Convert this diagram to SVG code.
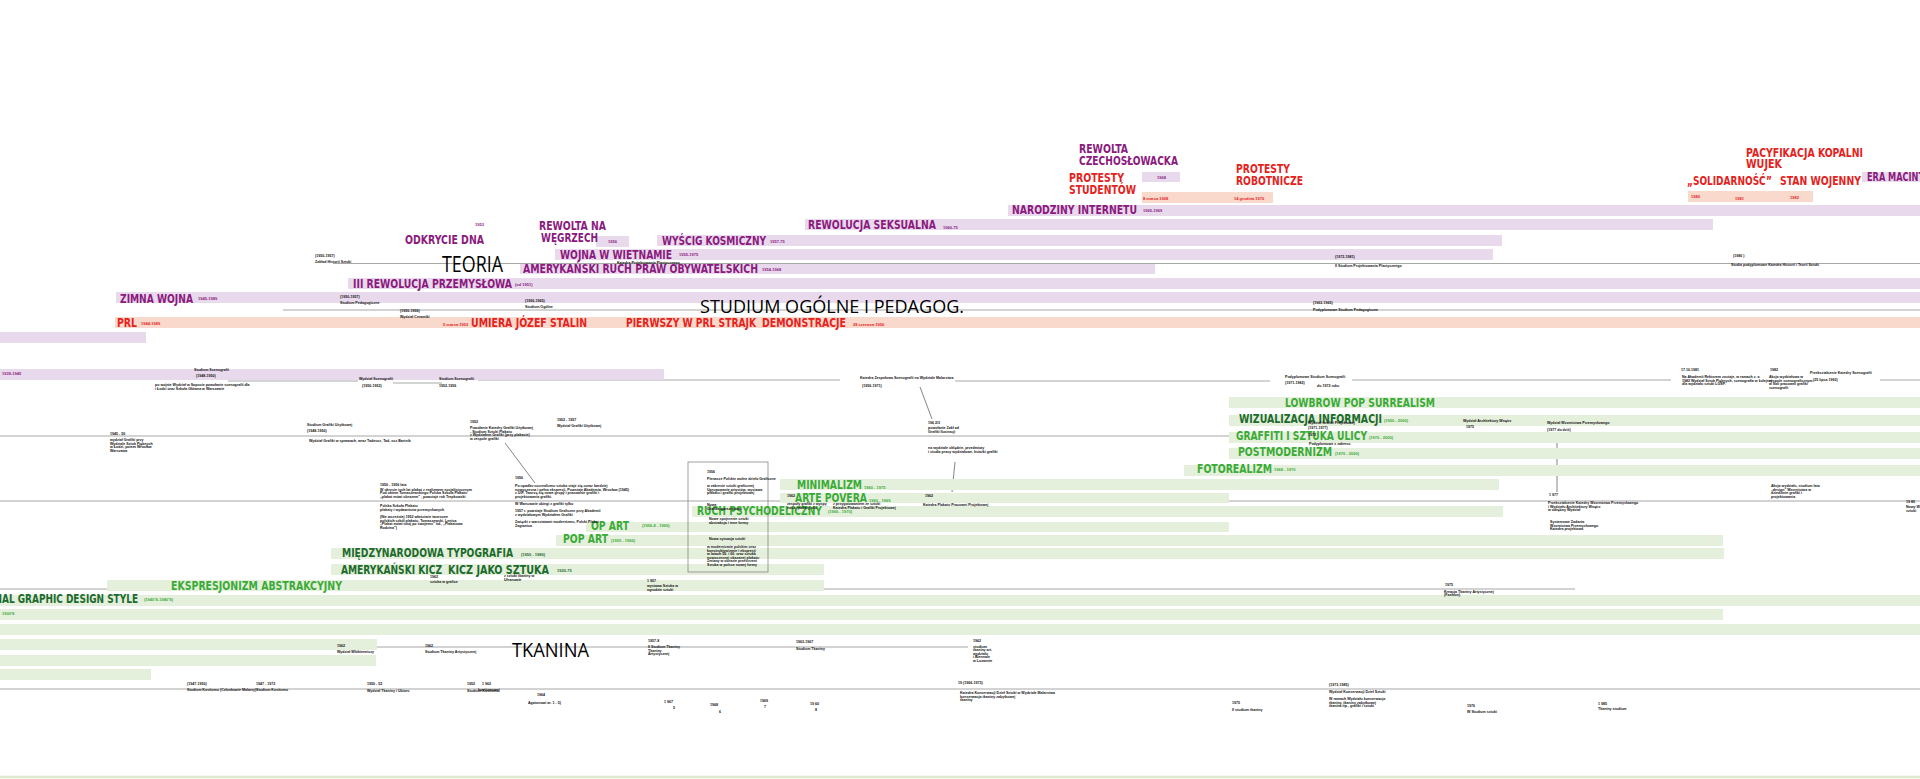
<svg xmlns="http://www.w3.org/2000/svg" width="1920" height="779" viewBox="0 0 1920 779">
<style>
.bg{fill:#fff}
.pb{fill:#e8d9ec}
.rb{fill:#f9d9cc}
.gb{fill:#e4efdc}
.ln{stroke:#a8a8a8;stroke-width:1.2;fill:none}
.cn{stroke:#666;stroke-width:0.8;fill:none}
.tt{font-family:"DejaVu Sans","Liberation Sans",sans-serif;font-weight:bold;font-size:12.5px;font-stretch:condensed}
.pt{fill:#8b1a7e}
.rt{fill:#e5221c}
.gt{fill:#3aab36}
.dg{fill:#1c6b2d}
.big{font-family:"Open Sans","Liberation Sans",sans-serif;font-weight:normal;fill:#000}
.d{font-family:"Liberation Sans",sans-serif;font-size:4px;font-weight:bold}
.t{font-family:"Liberation Sans",sans-serif;font-size:3.6px;font-weight:bold;fill:#111}
</style>
<rect class="bg" x="0" y="0" width="1920" height="779"/>

<g id="connectors">
<line class="ln" x1="333" y1="263.5" x2="1920" y2="263.5"/>
<line class="ln" x1="283" y1="310" x2="1920" y2="310"/>
<line class="ln" x1="0" y1="377" x2="173" y2="377"/>
<line class="ln" x1="228" y1="381" x2="358" y2="381"/>
<line class="ln" x1="393" y1="383" x2="442" y2="383"/>
<line class="ln" x1="478" y1="380" x2="840" y2="380"/>
<line class="ln" x1="955" y1="381" x2="1270" y2="381"/>
<line class="ln" x1="1352" y1="380" x2="1671" y2="380"/>
<line class="ln" x1="1880" y1="380" x2="1920" y2="380"/>
<line class="ln" x1="0" y1="436" x2="1920" y2="436"/>
<line class="ln" x1="0" y1="501" x2="1920" y2="501"/>
<line class="ln" x1="0" y1="589" x2="1575" y2="589"/>
<line class="ln" x1="367" y1="647" x2="968" y2="647"/>
<line class="ln" x1="0" y1="689" x2="1920" y2="689"/>
<line x1="0" y1="777" x2="1920" y2="777" stroke="#dfe9cf" stroke-width="2.5"/>
<line class="cn" x1="505" y1="443" x2="535" y2="483"/>
<line class="cn" x1="920" y1="387" x2="932" y2="419"/>
<line class="cn" x1="955" y1="462" x2="952" y2="492"/>
<line class="cn" x1="1557" y1="438" x2="1557" y2="492"/>
</g>

<g id="bars">
<rect class="pb" x="1862" y="172" width="58" height="10"/>
<rect class="pb" x="1142" y="172" width="38" height="10"/>
<rect class="rb" x="1142" y="192" width="131" height="11"/>
<rect class="rb" x="1688" y="191" width="125" height="11"/>
<rect class="pb" x="1008" y="205" width="912" height="11"/>
<rect class="pb" x="805" y="219" width="908" height="11"/>
<rect class="pb" x="596" y="236" width="33" height="11"/>
<rect class="pb" x="657" y="235" width="845" height="11"/>
<rect class="pb" x="555" y="249" width="938" height="11"/>
<rect class="pb" x="520" y="264" width="635" height="10"/>
<rect class="pb" x="348" y="278" width="1572" height="11"/>
<rect class="pb" x="116" y="292" width="1804" height="11"/>
<rect class="rb" x="115" y="317" width="1805" height="11"/>
<rect class="pb" x="0" y="332" width="146" height="11"/>
<rect class="pb" x="0" y="369" width="664" height="11"/>
<rect class="gb" x="1229" y="397" width="691" height="11"/>
<rect class="gb" x="1229" y="415" width="691" height="11"/>
<rect class="gb" x="1229" y="432" width="691" height="11"/>
<rect class="gb" x="1229" y="448" width="691" height="11"/>
<rect class="gb" x="1184" y="465" width="736" height="11"/>
<rect class="gb" x="780" y="479" width="719" height="11"/>
<rect class="gb" x="780" y="493" width="449" height="10"/>
<rect class="gb" x="692" y="506" width="811" height="11"/>
<rect class="gb" x="586" y="522" width="643" height="10"/>
<rect class="gb" x="556" y="535" width="1167" height="11"/>
<rect class="gb" x="331" y="548" width="1393" height="11"/>
<rect class="gb" x="331" y="564" width="493" height="11"/>
<rect class="gb" x="107" y="580" width="717" height="11"/>
<rect class="gb" x="0" y="595" width="1920" height="11"/>
<rect class="gb" x="0" y="609" width="1723" height="11"/>
<rect class="gb" x="0" y="624" width="1920" height="11"/>
<rect class="gb" x="0" y="639" width="377" height="11"/>
<rect class="gb" x="0" y="655" width="376" height="11"/>
<rect class="gb" x="0" y="669" width="151" height="11"/>
</g>

<g id="box1956"><rect x="688" y="462" width="80" height="110" fill="none" stroke="#888" stroke-width="0.8"/></g>

<g id="events-top">
<g id="n-rewolta-cz"><text class="tt pt" x="1079" y="153" textLength="49" lengthAdjust="spacingAndGlyphs">REWOLTA</text><text class="tt pt" x="1079" y="165" textLength="99" lengthAdjust="spacingAndGlyphs">CZECHOSŁOWACKA</text><text class="d pt" x="1157" y="179">1968</text></g>
<g id="n-protesty-st"><text class="tt rt" x="1069" y="182" textLength="55" lengthAdjust="spacingAndGlyphs">PROTESTY</text><text class="tt rt" x="1069" y="193.5" textLength="67" lengthAdjust="spacingAndGlyphs">STUDENTÓW</text><text class="d rt" x="1143" y="200">8 marca 1968</text></g>
<g id="n-protesty-rob"><text class="tt rt" x="1236" y="173" textLength="54" lengthAdjust="spacingAndGlyphs">PROTESTY</text><text class="tt rt" x="1236" y="184.5" textLength="67" lengthAdjust="spacingAndGlyphs">ROBOTNICZE</text><text class="d rt" x="1234" y="200">14 grudnia 1970</text></g>
<g id="n-wujek"><text class="tt rt" x="1746" y="156.5" textLength="117" lengthAdjust="spacingAndGlyphs">PACYFIKACJA KOPALNI</text><text class="tt rt" x="1746" y="167.5" textLength="36" lengthAdjust="spacingAndGlyphs">WUJEK</text></g>
<g id="n-solidarnosc"><text class="tt rt" x="1687" y="185" textLength="85" lengthAdjust="spacingAndGlyphs">„SOLIDARNOŚĆ”</text><text class="d rt" x="1691" y="198">1980</text><text class="d rt" x="1735" y="199.5">1981</text></g>
<g id="n-stan-wojenny"><text class="tt rt" x="1780" y="185" textLength="81" lengthAdjust="spacingAndGlyphs">STAN WOJENNY</text><text class="d rt" x="1790" y="198.5">1982</text></g>
<g id="n-era-mac"><text class="tt pt" x="1867" y="180.5" textLength="83" lengthAdjust="spacingAndGlyphs">ERA MACINTOSHA</text></g>
<g id="n-internet"><text class="tt pt" x="1012" y="213.5" textLength="125" lengthAdjust="spacingAndGlyphs">NARODZINY INTERNETU</text><text class="d pt" x="1143" y="212">1965-1969</text></g>
<g id="n-seks"><text class="tt pt" x="808" y="229" textLength="128" lengthAdjust="spacingAndGlyphs">REWOLUCJA SEKSUALNA</text><text class="d pt" x="943" y="229">1960-75</text></g>
<g id="n-dna"><text class="d pt" x="475" y="226">1953</text><text class="tt pt" x="405" y="244" textLength="79" lengthAdjust="spacingAndGlyphs">ODKRYCIE DNA</text></g>
<g id="n-wegry"><text class="tt pt" x="539" y="230" textLength="67" lengthAdjust="spacingAndGlyphs">REWOLTA NA</text><text class="tt pt" x="541" y="241.5" textLength="57" lengthAdjust="spacingAndGlyphs">WĘGRZECH</text><text class="d pt" x="608" y="243">1956</text></g>
<g id="n-kosmos"><text class="tt pt" x="662" y="245" textLength="104" lengthAdjust="spacingAndGlyphs">WYŚCIG KOSMICZNY</text><text class="d pt" x="770" y="243">1957-75</text></g>
<g id="n-wietnam"><text class="tt pt" x="560" y="259" textLength="112" lengthAdjust="spacingAndGlyphs">WOJNA W WIETNAMIE</text><text class="d pt" x="679" y="256">1955-1975</text></g>
<g id="n-prawa"><text class="tt pt" x="523" y="273" textLength="235" lengthAdjust="spacingAndGlyphs">AMERYKAŃSKI RUCH PRAW OBYWATELSKICH</text><text class="d pt" x="762" y="271">1954-1968</text></g>
<g id="n-teoria"><text class="big" x="442" y="271.5" font-size="21" textLength="61" lengthAdjust="spacingAndGlyphs">TEORIA</text></g>
<g id="n-rewprzem"><text class="tt pt" x="353" y="288" textLength="159" lengthAdjust="spacingAndGlyphs">III REWOLUCJA PRZEMYSŁOWA</text><text class="d pt" x="515" y="286">(od 1951)</text></g>
<g id="n-zimna"><text class="tt pt" x="120" y="302.5" textLength="73" lengthAdjust="spacingAndGlyphs">ZIMNA WOJNA</text><text class="d pt" x="198" y="300">1945-1989</text></g>
<g id="n-studium"><text class="big" x="700" y="313" font-size="19" textLength="264" lengthAdjust="spacingAndGlyphs">STUDIUM OGÓLNE I PEDAGOG.</text></g>
<g id="n-prl"><text class="tt rt" x="117" y="327" textLength="20" lengthAdjust="spacingAndGlyphs">PRL</text><text class="d rt" x="141" y="325">1944-1989</text></g>
<g id="n-stalin"><text class="d rt" x="443" y="325.5">5 marca 1953</text><text class="tt rt" x="471" y="327" textLength="116" lengthAdjust="spacingAndGlyphs">UMIERA JÓZEF STALIN</text></g>
<g id="n-strajk"><text class="tt rt" x="626" y="327" textLength="130" lengthAdjust="spacingAndGlyphs">PIERWSZY W PRL STRAJK</text><text class="tt rt" x="762" y="327" textLength="84" lengthAdjust="spacingAndGlyphs">DEMONSTRACJE</text><text class="d rt" x="853" y="326">28 czerwca 1956</text></g>
</g>

<g id="art-movements">
<g id="n-lowbrow"><text class="tt gt" x="1285" y="406.5" textLength="150" lengthAdjust="spacingAndGlyphs">LOWBROW POP SURREALISM</text></g>
<g id="n-wizual"><text class="tt dg" x="1239" y="423" textLength="143" lengthAdjust="spacingAndGlyphs">WIZUALIZACJA INFORMACJI</text><text class="d gt" x="1384" y="422">(1950 - 2000)</text></g>
<g id="n-graffiti"><text class="tt gt" x="1236" y="439.5" textLength="131" lengthAdjust="spacingAndGlyphs">GRAFFITI I SZTUKA ULICY</text><text class="d gt" x="1369" y="439">(1970 - 2000)</text></g>
<g id="n-postmod"><text class="tt gt" x="1238" y="456" textLength="94" lengthAdjust="spacingAndGlyphs">POSTMODERNIZM</text><text class="d gt" x="1335" y="455">(1970 - 2000)</text></g>
<g id="n-fotoreal"><text class="tt gt" x="1197" y="472.5" textLength="75" lengthAdjust="spacingAndGlyphs">FOTOREALIZM</text><text class="d gt" x="1274" y="471">1968 - 1970</text></g>
<g id="n-minimal"><text class="tt gt" x="797" y="489" textLength="65" lengthAdjust="spacingAndGlyphs">MINIMALIZM</text><text class="d gt" x="864" y="489">1960 - 1975</text></g>
<g id="n-arte"><text class="tt gt" x="795" y="502" textLength="72" lengthAdjust="spacingAndGlyphs">ARTE POVERA</text><text class="d gt" x="869" y="502">1960 - 1969</text></g>
<g id="n-psych"><text class="tt gt" x="697" y="515" textLength="125" lengthAdjust="spacingAndGlyphs">RUCH PSYCHODELICZNY</text><text class="d gt" x="828" y="513">(1966 - 1970)</text></g>
<g id="n-opart"><text class="tt gt" x="591" y="530" textLength="38" lengthAdjust="spacingAndGlyphs">OP ART</text><text class="d gt" x="642" y="527">(1956-8 - 1969)</text></g>
<g id="n-popart"><text class="tt gt" x="563" y="543" textLength="45" lengthAdjust="spacingAndGlyphs">POP ART</text><text class="d gt" x="611" y="542">(1955 - 1960)</text></g>
<g id="n-typo"><text class="tt dg" x="342" y="557" textLength="171" lengthAdjust="spacingAndGlyphs">MIĘDZYNARODOWA TYPOGRAFIA</text><text class="d dg" x="521" y="556">(1950 - 1980)</text></g>
<g id="n-kicz"><text class="tt dg" x="341" y="574" textLength="101" lengthAdjust="spacingAndGlyphs">AMERYKAŃSKI KICZ</text><text class="tt dg" x="448" y="574" textLength="101" lengthAdjust="spacingAndGlyphs">KICZ JAKO SZTUKA</text><text class="d dg" x="557" y="572">1920-75</text></g>
<g id="n-ekspr"><text class="tt gt" x="171" y="590" textLength="171" lengthAdjust="spacingAndGlyphs">EKSPRESJONIZM ABSTRAKCYJNY</text></g>
<g id="n-igds"><text class="tt dg" x="-66" y="602.5" textLength="204" lengthAdjust="spacingAndGlyphs">INTERNATIONAL GRAPHIC DESIGN STYLE</text><text class="d gt" x="144" y="601">(1940'S-1980'S)</text></g>
<g id="n-1930"><text class="d gt" x="2" y="615">1930'S</text></g>
<g id="n-tkanina"><text class="big" x="512" y="657" font-size="20.5" textLength="77" lengthAdjust="spacingAndGlyphs">TKANINA</text></g>
</g>

<g id="notes">
<g id="a1"><text class="t" x="315" y="257">(1950-1957)</text><text class="t" x="315" y="263">Zakład Historii Sztuki</text></g>
<g id="a2"><text class="t" x="340" y="298">(1950-1957)</text><text class="t" x="340" y="304">Studium Pedagogiczne</text></g>
<g id="a3"><text class="t" x="400" y="312">(1950-1956)</text><text class="t" x="400" y="318">Wydział Ceramiki</text></g>
<g id="a4"><text class="t" x="525" y="302">(1956-1965)</text><text class="t" x="525" y="308">Studium Ogólne</text></g>
<g id="a5"><text class="t" x="617" y="264">Katedra Projektowania Plastycznego</text></g>
<g id="a6"><text class="t" x="1335" y="258">(1972-1981)</text><text class="t" x="1335" y="267">II Studium Projektowania Plastycznego</text></g>
<g id="a7"><text class="t" x="1313" y="304">(1962-1965)</text><text class="t" x="1313" y="311">Podyplomowe Studium Pedagogiczne</text></g>
<g id="a8"><text class="t" x="1733" y="257">(1980 )</text><text class="t" x="1731" y="266">Studia podyplomowe Katedra Historii i Teorii Sztuki</text></g>
<g id="a9"><text class="d pt" x="2" y="375">1939-1945</text></g>
<g id="a10"><text class="t" x="194" y="371">Studium Scenografii</text><text class="t" x="196" y="377">(1948-1950)</text></g>
<g id="a11"><text class="t" x="155" y="386">po wojnie Wydział w Sopocie powołanie scenografii dla</text><text class="t" x="155" y="390">i Łodzi oraz Szkoła Główna w Warszawie</text></g>
<g id="a12"><text class="t" x="359" y="380">Wydział Scenografii</text><text class="t" x="362" y="387">(1950-1952)</text></g>
<g id="a13"><text class="t" x="439" y="380">Studium Scenografii</text><text class="t" x="439" y="387">1952-1956</text></g>
<g id="a14"><text class="t" x="860" y="379">Katedra Zespołowa Scenografii na Wydziale Malarstwa</text><text class="t" x="862" y="387">(1956-1971)</text></g>
<g id="a15"><text class="t" x="1285" y="378">Podyplomowe Studium Scenografii</text><text class="t" x="1285" y="384">(1971-1982)</text><text class="t" x="1317" y="387">do 1972 roku</text></g>
<g id="a16"><text class="t" x="1681" y="371">17.10.1981</text><text class="t" x="1682" y="378">Na Akademii Rektorem zostaje, w ramach z. a</text><text class="t" x="1682" y="381.5">1982 Wydział Sztuk Pięknych, scenografia w kolejnej</text><text class="t" x="1682" y="385">dla wydziału sztuki LGSP.</text></g>
<g id="a17"><text class="t" x="1770" y="371">1982</text><text class="t" x="1769" y="378">Akcja wydziałowa w</text><text class="t" x="1769" y="381.5">zespole scenograficznym</text><text class="t" x="1769" y="385">w Sali pracowni grafiki</text><text class="t" x="1769" y="388.5">scenografii</text></g>
<g id="a18"><text class="t" x="1810" y="374">Przekształcenie Katedry Scenografii</text><text class="t" x="1813" y="381">(25 lipca 1992)</text></g>
<g id="a19"><text class="t" x="307" y="426">Studium Grafiki Użytkowej</text><text class="t" x="307" y="432">(1948-1950)</text><text class="t" x="309" y="441.5">Wydział Grafiki w sprawach, wraz Tadeusz, Tad, ocz Bartnik</text></g>
<g id="a20"><text class="t" x="110" y="435">1945 - 50</text><text class="t" x="110" y="441">wydział Grafiki przy</text><text class="t" x="110" y="444.5">Wydziale Sztuk Pięknych</text><text class="t" x="110" y="448">w Łodzi, potem Wrocław</text><text class="t" x="110" y="451.5">Warszawa</text></g>
<g id="a21"><text class="t" x="470" y="423">1952</text><text class="t" x="470" y="429">Powołanie Katedry Grafiki Użytkowej</text><text class="t" x="470" y="432.5">- Studium Sztuki Plakatu</text><text class="t" x="470" y="436">z Wydziałem Grafiki (przy plakacie)</text><text class="t" x="470" y="439.5">w zespole grafiki</text></g>
<g id="a22"><text class="t" x="557" y="421">1952 - 1957</text><text class="t" x="557" y="427">Wydział Grafiki Użytkowej</text></g>
<g id="a23"><text class="t" x="928" y="424">196 2/3</text><text class="t" x="928" y="429">powołanie Zakł ad</text><text class="t" x="928" y="433">Grafiki Ilustracji</text></g>
<g id="a24"><text class="t" x="928" y="449">na wydziale ukłądzie, przedmioty</text><text class="t" x="928" y="453">i studia pracy wydziałowe, ksiażki grafiki</text></g>
<g id="a25"><text class="t" x="380" y="486">1950 - 1956 lata</text><text class="t" x="380" y="490.5">W okresie tych lat plakat z realizmem socjalistycznym</text><text class="t" x="380" y="494">Pod okiem Tomaszewskiego Polska Szkoła Plakatu</text><text class="t" x="380" y="497.5">„plakat mówi obrazem” , powstaje rok Trepkowski</text></g>
<g id="a26"><text class="t" x="380" y="507">Polska Szkoła Plakatu</text><text class="t" x="380" y="510.5">plakaty i wydawnictw przemysłowych</text><text class="t" x="380" y="518">(Nie wcześniej 1952 właściwie tworzone</text><text class="t" x="380" y="521.5">polskich szkół plakatu, Tomaszewski, Lenica</text><text class="t" x="380" y="525">„Plakat mówi tutaj po swojemu” itd., „Plakatowa</text><text class="t" x="380" y="528.5">Rodzina”)</text></g>
<g id="a27"><text class="t" x="515" y="479">1956</text><text class="t" x="515" y="487">Po upadku socrealizmu sztuka staje się coraz bardziej</text><text class="t" x="515" y="490.5">nowoczesna i pełna ekspresji, Powstaje Akademia, Wrocław (1945)</text><text class="t" x="515" y="494">z UIP, Tworzą się nowe grupy i pracownie grafiki i</text><text class="t" x="515" y="497.5">projektowania grafiki.</text><text class="t" x="515" y="505">W Warszawie obiegi z grafiki tylko</text><text class="t" x="515" y="512">1957 r. powstaje Studium Graficzne przy Akademii</text><text class="t" x="515" y="515.5">z wydziałowym Wydziałem Grafiki</text><text class="t" x="515" y="523">Związki z warsztatami modernizmu, Polski Plakat</text><text class="t" x="515" y="526.5">Zagranica</text></g>
<g id="a28"><text class="t" x="707" y="473">1956</text><text class="t" x="707" y="480">Pierwsze Polskie wolne dzieło Graficzne</text><text class="t" x="707" y="487">w zakresie sztuki graficznej</text><text class="t" x="707" y="490.5">Ugrupowanie artystów, wystawa</text><text class="t" x="707" y="494">plakatu i grafiki projektowej</text><text class="t" x="707" y="506">Nowe</text><text class="t" x="707" y="509.5">Grafika warsztatowa</text><text class="t" x="709" y="520">Nowe spojrzenie sztuki</text><text class="t" x="709" y="523.5">abstrakcja i inne formy</text><text class="t" x="709" y="540">Nowa sytuacja sztuki</text><text class="t" x="707" y="548">w modernizmie polskim oraz</text><text class="t" x="707" y="551.5">konstruktywizmie i ekspresji</text><text class="t" x="707" y="555">w latach 50. i 60. oraz sztuka</text><text class="t" x="707" y="558.5">nowoczesnej ukazanej plakatu</text><text class="t" x="707" y="562">Zmiany w obrazie przestrzeni</text><text class="t" x="707" y="565.5">Sztuka w polsce nowej formy</text></g>
<g id="a29"><text class="t" x="787" y="497">1962</text><text class="t" x="787" y="505">zespoły grafiki z wyspy</text><text class="t" x="787" y="508.5">nauk, plakaty ulic</text></g>
<g id="a30"><text class="t" x="833" y="505">z przygotowaniem ze sztuki</text><text class="t" x="833" y="508.5">Katedra Plakatu i Grafiki Projektowej</text></g>
<g id="a31"><text class="t" x="925" y="497">1962</text><text class="t" x="923" y="506">Katedra Plakatu Pracowni Projektowej</text></g>
<g id="a32"><text class="t" x="1308" y="424">Wydział Grafiki Projektowej</text><text class="t" x="1308" y="429">(1971-1977)</text><text class="t" x="1308" y="436">1972</text><text class="t" x="1309" y="445">Podyplomowe z zakresu</text></g>
<g id="a33"><text class="t" x="1463" y="422">Wydział Architektury Wnętrz</text><text class="t" x="1466" y="428">1975</text></g>
<g id="a34"><text class="t" x="1547" y="424">Wydział Wzornictwa Przemysłowego</text><text class="t" x="1547" y="431">(1977 do dziś)</text></g>
<g id="a35"><text class="t" x="1549" y="496">1 977</text><text class="t" x="1548" y="504">Przekształcenie Katedry Wzornictwa Przemysłowego</text><text class="t" x="1548" y="507.5">i Wydziału Architektury Wnętrz</text><text class="t" x="1548" y="511">w odrębny Wydział</text><text class="t" x="1550" y="523">Systemowe Zadania</text><text class="t" x="1550" y="526.5">Wzornictwa Przemysłowego</text><text class="t" x="1550" y="530">Katedra projektowa</text></g>
<g id="a36"><text class="t" x="1771" y="487">Akcja wydziału, studium lata</text><text class="t" x="1771" y="490.5">„design” Wzornictwa w</text><text class="t" x="1771" y="494">dziedzinie grafiki i</text><text class="t" x="1771" y="497.5">projektowania</text></g>
<g id="a37"><text class="t" x="1906" y="503">19 85</text><text class="t" x="1906" y="507.5">Nowy W.</text><text class="t" x="1906" y="512">sztuki</text></g>
<g id="a38"><text class="t" x="430" y="578">1962</text><text class="t" x="430" y="583">sztuka w grafice</text></g>
<g id="a39"><text class="t" x="504" y="577">z sztuki tkaniny w</text><text class="t" x="504" y="580.5">Ufranowie</text></g>
<g id="a40"><text class="t" x="647" y="582">1 957</text><text class="t" x="647" y="587">wystawa Sztuka w</text><text class="t" x="647" y="590.5">ogrodzie sztuki</text></g>
<g id="a41"><text class="t" x="337" y="647">1962</text><text class="t" x="337" y="653">Wydział Włókienniczy</text></g>
<g id="a42"><text class="t" x="425" y="647">1962</text><text class="t" x="425" y="653">Studium Tkaniny Artystycznej</text></g>
<g id="a43"><text class="t" x="648" y="642">1957-8</text><text class="t" x="648" y="648">II Studium Tkaniny</text><text class="t" x="648" y="651.5">Tkaniny</text><text class="t" x="648" y="655">Artystycznej</text></g>
<g id="a44"><text class="t" x="796" y="643">1963-1967</text><text class="t" x="796" y="650">Studium Tkaniny</text></g>
<g id="a45"><text class="t" x="973" y="642">1962</text><text class="t" x="973" y="647.5">studium</text><text class="t" x="973" y="651">tkaniny art.</text><text class="t" x="973" y="654.5">wydziału</text><text class="t" x="973" y="658">i Biennale</text><text class="t" x="973" y="661.5">w Lozannie</text></g>
<g id="a46"><text class="t" x="187" y="685">(1947-1950)</text><text class="t" x="187" y="691">Studium Kostiumu (Członkowie Malarzy)</text></g>
<g id="a47"><text class="t" x="256" y="685">1947 - 1972</text><text class="t" x="256" y="691">Studium Kostiumu</text></g>
<g id="a48"><text class="t" x="367" y="685">1950 - 52</text><text class="t" x="367" y="692">Wydział Tkaniny i Ubioru</text></g>
<g id="a49"><text class="t" x="467" y="685">1952</text><text class="t" x="467" y="692">Studium Kostiumu</text></g>
<g id="a50"><text class="t" x="482" y="685">1 962</text><text class="t" x="478" y="691">kostiumowej</text></g>
<g id="a51"><text class="t" x="537" y="696">1964</text><text class="t" x="528" y="704">Agatonowi ar. 1 - 5)</text></g>
<g id="a52"><text class="t" x="664" y="703">1 967</text><text class="t" x="673" y="709">5</text></g>
<g id="a53"><text class="t" x="710" y="706">1968</text><text class="t" x="719" y="713">6</text></g>
<g id="a54"><text class="t" x="760" y="702">1969</text><text class="t" x="764" y="708">7</text></g>
<g id="a55"><text class="t" x="810" y="705">19 60</text><text class="t" x="815" y="711">8</text></g>
<g id="a56"><text class="t" x="958" y="684">19 (1966-1973)</text><text class="t" x="960" y="694">Katedra Konserwacji Dzieł Sztuki w Wydziale Malarstwa</text><text class="t" x="960" y="697.5">konserwacja tkaniny zabytkowej</text><text class="t" x="960" y="701">tkaniny</text></g>
<g id="a57"><text class="t" x="1232" y="704">1975</text><text class="t" x="1232" y="711">II studium tkaniny</text></g>
<g id="a58"><text class="t" x="1329" y="686">(1973-1985)</text><text class="t" x="1329" y="693">Wydział Konserwacji Dzieł Sztuki</text><text class="t" x="1329" y="700">W ramach Wydziału konserwacja</text><text class="t" x="1329" y="703.5">tkaniny, tkaniny zabytkowej</text><text class="t" x="1329" y="707">tkanina itp., grafiki i sztuki</text></g>
<g id="a59"><text class="t" x="1445" y="586">1975</text><text class="t" x="1444" y="592.5">Kreacja Tkaniny Artystycznej</text><text class="t" x="1444" y="596">(Fashion)</text></g>
<g id="a60"><text class="t" x="1467" y="707">1976</text><text class="t" x="1467" y="713">W Studium sztuki</text></g>
<g id="a61"><text class="t" x="1598" y="705">1 985</text><text class="t" x="1598" y="710">Tkaniny studium</text></g>
</g>
</svg>
